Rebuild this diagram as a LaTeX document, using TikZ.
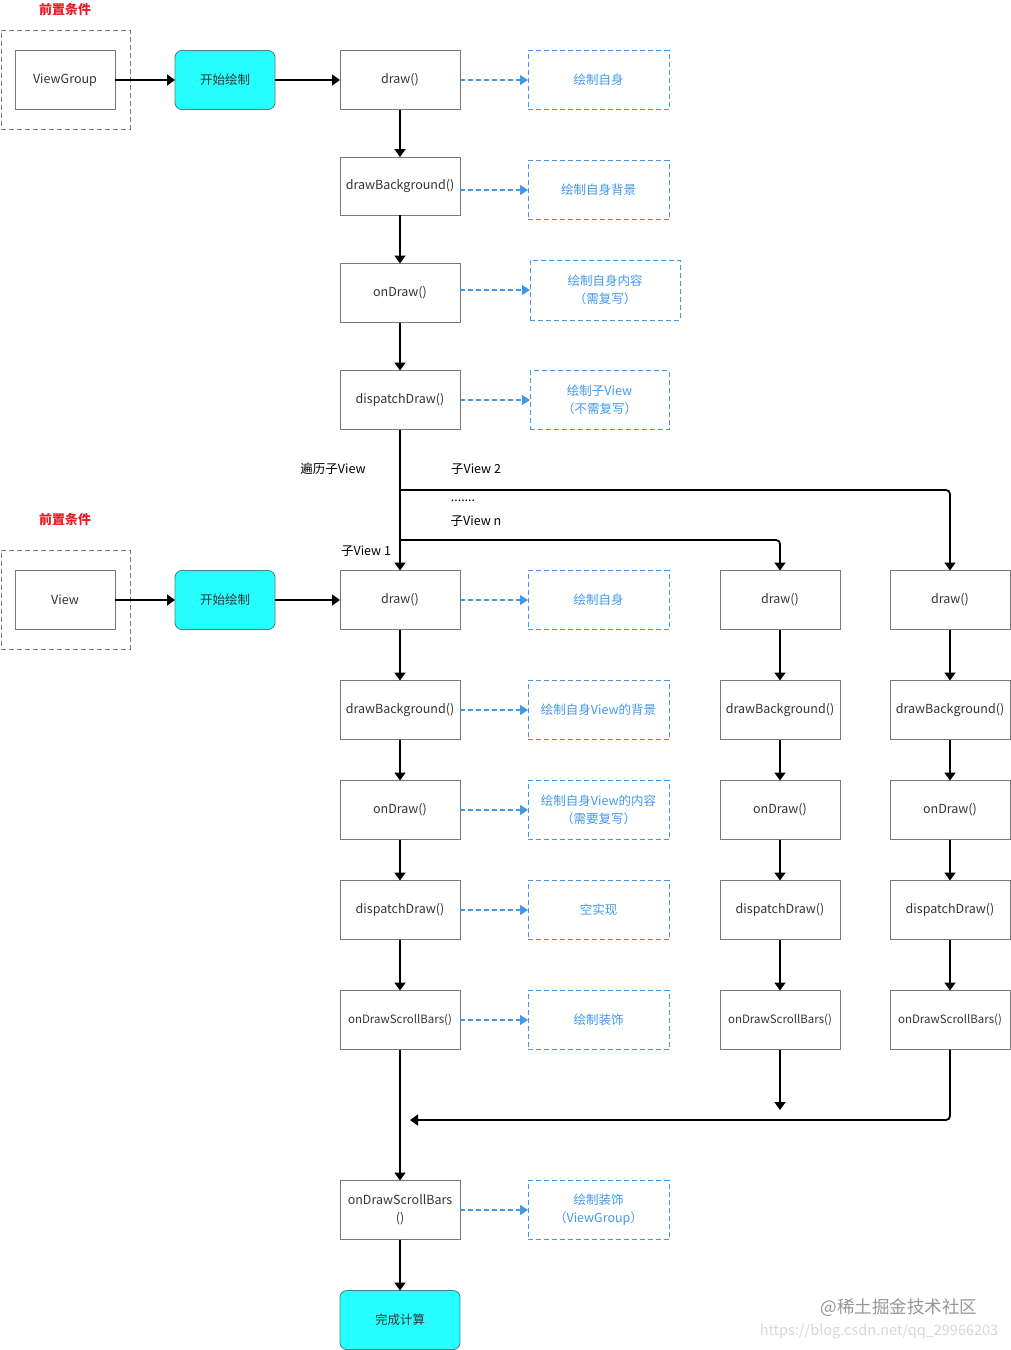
\documentclass[tikz,border=0pt]{standalone}
\usepackage{fontspec}
\setmainfont{Noto Sans CJK SC}
\usetikzlibrary{arrows.meta}
\definecolor{bordergray}{RGB}{120,120,120}
\definecolor{txtgray}{RGB}{51,51,51}
\definecolor{lblue}{RGB}{66,152,232}
\definecolor{cyanfill}{RGB}{38,255,255}
\definecolor{cyanborder}{RGB}{80,130,130}
\definecolor{redlbl}{RGB}{232,28,40}
\begin{document}
\begin{tikzpicture}[x=1pt,y=-1pt,
  every node/.style={inner sep=0pt,outer sep=0pt,font=\fontsize{12.5}{18}\selectfont,text=txtgray},
  box/.style={draw=bordergray,line width=0.9pt,minimum width=120pt,minimum height=59pt},
  smallbox/.style={draw=bordergray,line width=0.9pt,minimum width=100pt,minimum height=59pt},
  prebox/.style={draw=bordergray,dashed,dash pattern=on 5pt off 3pt,line width=0.9pt,minimum width=129pt,minimum height=99pt},
  startbox/.style={draw=cyanborder,fill=cyanfill,rounded corners=7pt,line width=0.9pt,minimum width=100pt,minimum height=59pt},
  endbox/.style={draw=cyanborder,fill=cyanfill,rounded corners=7pt,line width=0.9pt,minimum width=120pt,minimum height=59pt},
  bluebox/.style={draw=lblue,dashed,dash pattern=on 5pt off 3pt,line width=0.9pt,minimum width=141pt,minimum height=59pt,text=lblue,align=center},
  redlabel/.style={text=redlbl,font=\fontsize{13}{16}\selectfont\bfseries},
  plain/.style={text=black},
  arr/.style={line width=1.8pt,-{Triangle[length=8pt,width=11pt]}},
  barr/.style={draw=lblue,line width=1.5pt,dash pattern=on 5pt off 3pt,-{Triangle[length=8pt,width=10pt]}}
]
\useasboundingbox (0,0) rectangle (1010,1350);

% ---------- top: ViewGroup ----------
\node[redlabel] (r1) at (65,10) {前置条件};
\node[prebox] (pre1) at (65.5,79.5) {};
\node[smallbox] (vg) at (65,80) {ViewGroup};
\node[startbox] (s1) at (225,80) {开始绘制};
\node[box] (d1) at (400,80) {draw()};
\node[bluebox] (n1) at (598.5,80) {绘制自身};
\node[box,minimum height=58pt] (d2) at (400,186) {drawBackground()};
\node[bluebox] (n2) at (598.5,190) {绘制自身背景};
\node[box] (d3) at (400,293) {onDraw()};
\node[bluebox,minimum width=150pt,minimum height=60pt] (n3) at (605,290) {绘制自身内容\\（需复写）};
\node[box] (d4) at (400,400) {dispatchDraw()};
\node[bluebox,minimum width=139pt] (n4) at (599.5,400) {绘制子View\\（不需复写）};

\draw[arr] (vg.east) -- (s1.west);
\draw[arr] (s1.east) -- (d1.west);
\draw[arr] (d1.south) -- (d2.north);
\draw[arr] (d2.south) -- (d3.north);
\draw[arr] (d3.south) -- (d4.north);
\draw[barr] (d1.east) -- (n1.west);
\draw[barr] (n2.west -| d2.east) -- (n2.west);
\draw[barr] (n3.west -| d3.east) -- (n3.west);
\draw[barr] (d4.east) -- (n4.west);

% ---------- traversal labels ----------
\node[plain] (t0) at (333,469) {遍历子View};
\node[plain] (t2) at (476,469) {子View 2};
\node[plain] (tdots) at (463,501) {.......};
\node[plain] (tn) at (476,521) {子View n};
\node[plain] (t1) at (366,551) {子View 1};

% ---------- bottom: View ----------
\node[redlabel] (r2) at (65,520) {前置条件};
\node[prebox] (pre2) at (65.5,599.5) {};
\node[smallbox] (vw) at (65,600) {View};
\node[startbox] (s2) at (225,600) {开始绘制};

\node[box] (e1) at (400,600) {draw()};
\node[box] (e2) at (400,710) {drawBackground()};
\node[box] (e3) at (400,810) {onDraw()};
\node[box] (e4) at (400,910) {dispatchDraw()};
\node[box,font=\fontsize{11.5}{15}\selectfont] (e5) at (400,1020) {onDrawScrollBars()};

\node[bluebox] (m1) at (598.5,600) {绘制自身};
\node[bluebox] (m2) at (598.5,710) {绘制自身View的背景};
\node[bluebox] (m3) at (598.5,810) {绘制自身View的内容\\（需要复写）};
\node[bluebox] (m4) at (598.5,910) {空实现};
\node[bluebox] (m5) at (598.5,1020) {绘制装饰};

\node[box] (f1) at (780,600) {draw()};
\node[box] (f2) at (780,710) {drawBackground()};
\node[box] (f3) at (780,810) {onDraw()};
\node[box] (f4) at (780,910) {dispatchDraw()};
\node[box,font=\fontsize{11.5}{15}\selectfont] (f5) at (780,1020) {onDrawScrollBars()};

\node[box] (g1) at (950,600) {draw()};
\node[box] (g2) at (950,710) {drawBackground()};
\node[box] (g3) at (950,810) {onDraw()};
\node[box] (g4) at (950,910) {dispatchDraw()};
\node[box,font=\fontsize{11.5}{15}\selectfont] (g5) at (950,1020) {onDrawScrollBars()};

\node[box,align=center] (h) at (400,1210) {onDrawScrollBars\\()};
\node[bluebox] (m6) at (598.5,1210) {绘制装饰\\（ViewGroup）};
\node[endbox] (fin) at (400,1320) {完成计算};

\coordinate (br2) at (400,490);
\coordinate (brn) at (400,540);
\coordinate (fend) at (780,1110);
\coordinate (mend) at (410,1120);

\draw[arr] (d4.south) -- (e1.north);
\draw[arr,rounded corners=4pt] (br2) -| (g1.north);
\draw[arr,rounded corners=4pt] (brn) -| (f1.north);

\draw[arr] (vw.east) -- (s2.west);
\draw[arr] (s2.east) -- (e1.west);
\draw[arr] (e1.south) -- (e2.north);
\draw[arr] (e2.south) -- (e3.north);
\draw[arr] (e3.south) -- (e4.north);
\draw[arr] (e4.south) -- (e5.north);
\draw[arr] (e5.south) -- (h.north);
\draw[arr] (h.south) -- (fin.north);

\draw[arr] (f1.south) -- (f2.north);
\draw[arr] (f2.south) -- (f3.north);
\draw[arr] (f3.south) -- (f4.north);
\draw[arr] (f4.south) -- (f5.north);
\draw[arr] (f5.south) -- (fend);

\draw[arr] (g1.south) -- (g2.north);
\draw[arr] (g2.south) -- (g3.north);
\draw[arr] (g3.south) -- (g4.north);
\draw[arr] (g4.south) -- (g5.north);
\draw[arr,rounded corners=4pt] (g5.south) |- (mend);

\draw[barr] (e1.east) -- (m1.west);
\draw[barr] (e2.east) -- (m2.west);
\draw[barr] (e3.east) -- (m3.west);
\draw[barr] (e4.east) -- (m4.west);
\draw[barr] (e5.east) -- (m5.west);
\draw[barr] (m6.west -| h.east) -- (m6.west);

% ---------- watermark ----------
\node[text={rgb,255:red,150;green,150;blue,150},font=\fontsize{17.5}{20}\selectfont] (wm1) at (899,1308) {@稀土掘金技术社区};
\node[text={rgb,255:red,215;green,215;blue,215},font=\fontsize{14.5}{18}\selectfont] (wm2) at (879,1332) {https://blog.csdn.net/qq\_29966203};
\end{tikzpicture}
\end{document}
